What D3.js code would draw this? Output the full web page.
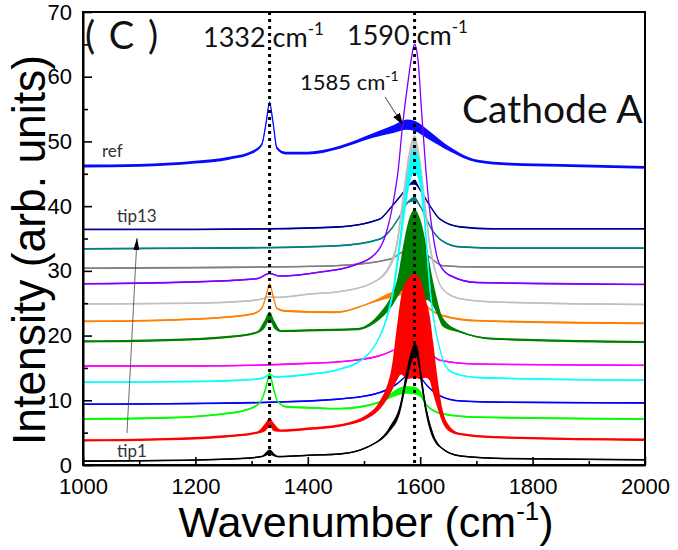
<!DOCTYPE html>
<html><head><meta charset="utf-8">
<script src="https://cdn.jsdelivr.net/npm/d3@7"></script>
<style>body{margin:0;background:#fff}</style>
</head><body><svg id="c" width="678" height="550"></svg>
<script>
// ---------- data ----------
const wavenumberTicks = [1000, 1200, 1400, 1600, 1800, 2000];
const wavenumberMinor = [1100, 1300, 1500, 1700, 1900];
const intensityTicks = [0, 10, 20, 30, 40, 50, 60, 70];
const intensityMinor = [5, 15, 25, 35, 45, 55, 65];
const peakLines = [1332, 1590];

const seriesNames = ["tip1","tip2","tip3","tip4","tip5","tip6","tip7","tip8","tip9","tip10","tip11","tip12","tip13","ref"];
const seriesColors = ["#000000","#ff0000","#00ff00","#0000ff","#00ffff","#ff00ff","#008000","#ff8000","#c0c0c0","#8000ff","#808080","#008080","#000090","#0a0aff"];
// half-width of the noise band for points without their own value
const baseNoise = [0.12,0.18,0.14,0.12,0.12,0.12,0.16,0.14,0.12,0.12,0.12,0.14,0.12,0.22];

// [wavenumber, intensity, noise half-width (optional)]
const tip1 = [[1000,0.6],[1150,0.7],[1280,1.0],[1318,1.3],[1332,2.0,0.4],[1346,1.3],[1400,1.5],[1457,1.7],[1516,3.2],[1546,5.6,0.4],[1564,8.7,0.7],[1576,13.8,1.0],[1585,16.9,1.0],[1590,17.9,0.9],[1595,17.3,1.0],[1601,13.8,1.0],[1610,8.7,0.8],[1623,4.5,0.5],[1640,2.5],[1671,1.4],[1750,1.0],[2000,0.8]];
const tip2 = [[1000,3.8],[1150,4.0],[1250,4.4],[1310,5.0],[1324,5.8,0.6],[1332,6.6,0.7],[1340,5.8,0.6],[1352,5.3],[1400,5.6],[1457,6.1],[1516,8.1,0.4],[1530,9.5,0.7],[1540,11,1],[1550,13.5,2],[1558,17,4],[1566,20,6],[1577,21,7.7],[1590,21.5,8],[1600,21,7.7],[1610,19.5,6],[1617,18,5],[1623,15,4],[1630,11.5,2.5],[1640,7.5,1],[1650,5.8,0.5],[1670,4.8],[1730,4.3],[2000,3.9]];
const tip3 = [[1000,7.1],[1150,7.3],[1250,7.9],[1300,8.8],[1316,9.8],[1325,11.8,0.4],[1332,14.0,0.4],[1339,11.8,0.4],[1347,9.8],[1362,9.0],[1420,8.8],[1457,8.7],[1528,9.7],[1558,11.2,0.5],[1575,11.6,0.6],[1590,11.5,0.6],[1600,11.0,0.5],[1612,9.2],[1640,7.9],[1700,7.4],[2000,7.1]];
const tip4 = [[1000,9.4],[1200,9.5],[1332,9.7],[1457,10.2],[1528,11.2],[1558,12.5],[1576,13.8],[1590,14.4,0.4],[1600,13.6],[1612,12.3],[1635,10.7],[1671,9.9],[1750,9.7],[2000,9.6]];
const tip5 = [[1000,12.8],[1200,12.9],[1300,13.2],[1322,13.5],[1332,14.0],[1342,13.6],[1400,14.0],[1457,14.8],[1505,16.9],[1523,19.0],[1540,22.6,0.4],[1552,27,0.8],[1562,33,1.2],[1572,40,1.6],[1582,45.5,1.8],[1590,47,1.8],[1598,45.5,1.8],[1606,40,1.6],[1613,32,1.2],[1619,26,0.8],[1624,22.6,0.5],[1635,17.9],[1645,15.3],[1663,14.1],[1706,13.5],[2000,13.1]];
const tip6 = [[1000,15.3],[1200,15.3],[1300,15.4],[1400,15.7],[1475,16.1],[1528,16.9],[1564,18.2],[1582,19.0],[1590,19.2,0.4],[1605,18.4],[1617,17.4],[1635,16.2],[1700,15.6],[2000,15.4]];
const tip7 = [[1000,19.1],[1150,19.3],[1260,19.8],[1310,20.5],[1322,21.6,0.6],[1332,23.0,0.7],[1341,21.6,0.6],[1352,20.7],[1400,20.8],[1488,21.0],[1528,23.0,0.5],[1548,25.2,0.9],[1560,27.5,1.5],[1568,30,3],[1577,31.5,5.5],[1590,31.5,8],[1600,31,7],[1612,29.5,4],[1621,27,2.2],[1630,24.5,1.2],[1640,22.1,0.7],[1671,20.6],[1730,19.5],[2000,19.0]];
const tip8 = [[1000,22.2],[1150,22.4],[1250,22.8],[1300,23.3],[1318,24.2],[1326,26.2],[1332,28.0],[1338,26.2],[1345,24.2],[1360,23.8],[1450,23.6],[1516,25.2],[1546,26.2,0.4],[1575,26.8,0.5],[1590,26.6,0.5],[1600,25.7,0.4],[1617,24.1],[1640,23.1],[1700,22.3],[2000,21.9]];
const tip9 = [[1000,24.9],[1200,25.0],[1300,25.4],[1320,25.7],[1332,26.0],[1345,25.9],[1400,26.4],[1457,26.8],[1516,28.2],[1546,30.8,0.4],[1558,33.9,0.8],[1568,40,1.2],[1580,47,1.5],[1590,49.5,1.5],[1600,46,1.5],[1610,39,1.2],[1617,34,0.8],[1624,31,0.5],[1640,27.2],[1671,25.7],[1730,25.2],[2000,24.8]];
const tip10 = [[1000,28.0],[1200,28.3],[1310,28.8],[1332,29.6],[1350,29.2],[1420,29.8],[1480,30.8],[1523,32.9],[1540,36.0],[1552,40.6],[1561,45.7],[1568,52],[1578,59],[1584,62.7],[1590,65],[1596,62.7],[1603,54],[1610,45.7],[1616,40],[1623,35.4],[1633,31.3],[1653,29.3],[1700,28.2],[2000,27.9]];
const tip11 = [[1000,30.4],[1200,30.5],[1332,30.6],[1450,30.8],[1546,31.8],[1568,32.9],[1590,33.7,0.4],[1617,32.1],[1640,30.8],[1700,30.6],[2000,30.6]];
const tip12 = [[1000,33.4],[1200,33.5],[1332,33.6],[1457,33.9],[1528,34.9],[1546,36.2],[1564,38.5],[1578,40.6],[1590,41.1,0.4],[1600,40.0],[1620,36.5],[1638,34.7],[1671,33.7],[1750,33.5],[2000,33.5]];
const tip13 = [[1000,36.4],[1200,36.4],[1332,36.5],[1457,36.8],[1528,38.0],[1546,39.6],[1568,41.9],[1582,43.4],[1590,43.7,0.4],[1600,42.5],[1617,40.1],[1635,38],[1671,36.8],[1730,36.5],[2000,36.5]];
const ref = [[1000,46.2],[1100,46.3],[1200,46.8],[1260,47.4],[1300,48.3],[1318,49.5],[1326,53],[1332,56],[1338,53],[1345,49],[1360,48.2],[1400,48.2],[1457,49.1],[1516,50.9,0.35],[1552,51.9,0.6],[1576,52.6,0.8],[1590,52.4,0.8],[1612,51.2,0.7],[1653,48.8,0.35],[1700,47.0],[1760,46.5],[1850,46.3],[2000,46.0]];

const allSeries = [tip1,tip2,tip3,tip4,tip5,tip6,tip7,tip8,tip9,tip10,tip11,tip12,tip13,ref];

// ---------- layout ----------
const svg = d3.select("#c");
const L = 83, R = 645, T = 12, B = 465;
const x = d3.scaleLinear().domain([1000, 2000]).range([L, R]);
const y = d3.scaleLinear().domain([0, 70]).range([B, T]);
const annFont = "Lato, 'Open Sans', sans-serif";
const axFont = "'Liberation Sans', Arial, sans-serif";

const defs = svg.append("defs");
defs.append("clipPath").attr("id","clip").append("rect")
  .attr("x", L).attr("y", T).attr("width", R - L).attr("height", B - T);
defs.append("marker").attr("id","ah").attr("markerUnits","userSpaceOnUse")
  .attr("markerWidth",12).attr("markerHeight",8).attr("refX",12).attr("refY",4)
  .attr("orient","auto").append("path").attr("d","M0,0 L12,4 L0,8 Z").attr("fill","#000");
defs.append("marker").attr("id","ah2").attr("markerUnits","userSpaceOnUse")
  .attr("markerWidth",12).attr("markerHeight",6).attr("refX",12).attr("refY",3)
  .attr("orient","auto").append("path").attr("d","M0,0 L12,3 L0,6 Z").attr("fill","#000");

// ---------- spectra ----------
const plot = svg.append("g").attr("clip-path","url(#clip)");
const order = d3.range(allSeries.length).reverse(); // ref first, tip1 on top
order.forEach(i => {
  const data = allSeries[i];
  const nz = d => (d[2] !== undefined ? d[2] : baseNoise[i]);
  const area = d3.area().curve(d3.curveMonotoneX)
    .x(d => x(d[0])).y0(d => y(d[1] - nz(d))).y1(d => y(d[1] + nz(d)));
  const line = d3.line().curve(d3.curveMonotoneX).x(d => x(d[0])).y(d => y(d[1]));
  plot.append("path").datum(data).attr("d", area).attr("fill", seriesColors[i]);
  plot.append("path").datum(data).attr("d", line).attr("fill","none")
    .attr("stroke", seriesColors[i]).attr("stroke-width", 1.3);
});

// dotted peak lines
svg.append("g").selectAll("line").data(peakLines).join("line")
  .attr("x1", d => x(d)).attr("x2", d => x(d)).attr("y1", T).attr("y2", B)
  .attr("stroke","#000").attr("stroke-width",3).attr("stroke-dasharray","3,4");

// ---------- axes ----------
svg.append("g").attr("transform",`translate(0,${B})`)
  .call(d3.axisBottom(x).tickValues(wavenumberTicks).tickSizeInner(-8).tickSizeOuter(0).tickPadding(13).tickFormat(d3.format("d")));
svg.append("g").attr("transform",`translate(0,${B})`)
  .call(d3.axisBottom(x).tickValues(wavenumberMinor).tickSizeInner(-4).tickSizeOuter(0).tickFormat(""))
  .select(".domain").remove();
svg.append("g").attr("transform",`translate(${L},0)`)
  .call(d3.axisLeft(y).tickValues(intensityTicks).tickSizeInner(-9).tickSizeOuter(0).tickPadding(11));
svg.append("g").attr("transform",`translate(${L},0)`)
  .call(d3.axisLeft(y).tickValues(intensityMinor).tickSizeInner(-5).tickSizeOuter(0).tickFormat(""))
  .select(".domain").remove();
svg.selectAll(".tick line").attr("stroke","#000").attr("stroke-width",1.6);
svg.selectAll(".domain").attr("stroke","#000").attr("stroke-width",2);
svg.selectAll(".tick text").attr("font-family", axFont).attr("font-size", 22).attr("fill","#000");

// frame
svg.append("rect").attr("x", L).attr("y", T).attr("width", R - L).attr("height", B - T)
  .attr("fill","none").attr("stroke","#000").attr("stroke-width",2);

// axis titles
const xt = svg.append("text").attr("x", 366).attr("y", 537).attr("text-anchor","middle")
  .attr("font-family", axFont).attr("font-size", 43).attr("fill","#000");
xt.append("tspan").text("Wavenumber (cm");
xt.append("tspan").attr("dy",-17).attr("font-size",26).text("-1");
xt.append("tspan").attr("dy",17).text(")");

svg.append("text").attr("transform","translate(45,250) rotate(-90)").attr("text-anchor","middle")
  .attr("font-family", axFont).attr("font-size", 46).attr("fill","#000")
  .attr("textLength", 390).attr("lengthAdjust","spacingAndGlyphs")
  .text("Intensity (arb. units)");

// ---------- annotations ----------
function label(xp, yp, size, main, sup, supSize, supDy, color) {
  const t = svg.append("text").attr("x", xp).attr("y", yp)
    .attr("font-family", annFont).attr("font-size", size).attr("fill", color || "#111");
  t.append("tspan").text(main);
  if (sup) t.append("tspan").attr("dy", -supDy).attr("font-size", supSize).text(sup);
  return t;
}
label(85, 49, 38, "( C )").attr("letter-spacing", 2);
label(203, 47, 27, "1332 cm", "-1", 17, 12);
label(347, 45, 27, "1590 cm", "-1", 17, 12);
label(300, 90, 22, "1585 cm", "-1", 14, 9);
label(462, 123, 39, "Cathode A");
label(102, 157, 17, "ref", null, 0, 0, "#333");
label(117, 222, 17, "tip13", null, 0, 0, "#333");
label(117, 457, 17, "tip1", null, 0, 0, "#333");

svg.append("line").attr("x1",127).attr("y1",433).attr("x2",137).attr("y2",238)
  .attr("stroke","#444").attr("stroke-width",0.8).attr("marker-end","url(#ah2)");
svg.append("line").attr("x1",385).attr("y1",97).attr("x2",403).attr("y2",125)
  .attr("stroke","#444").attr("stroke-width",1).attr("marker-end","url(#ah)");
</script></body></html>
